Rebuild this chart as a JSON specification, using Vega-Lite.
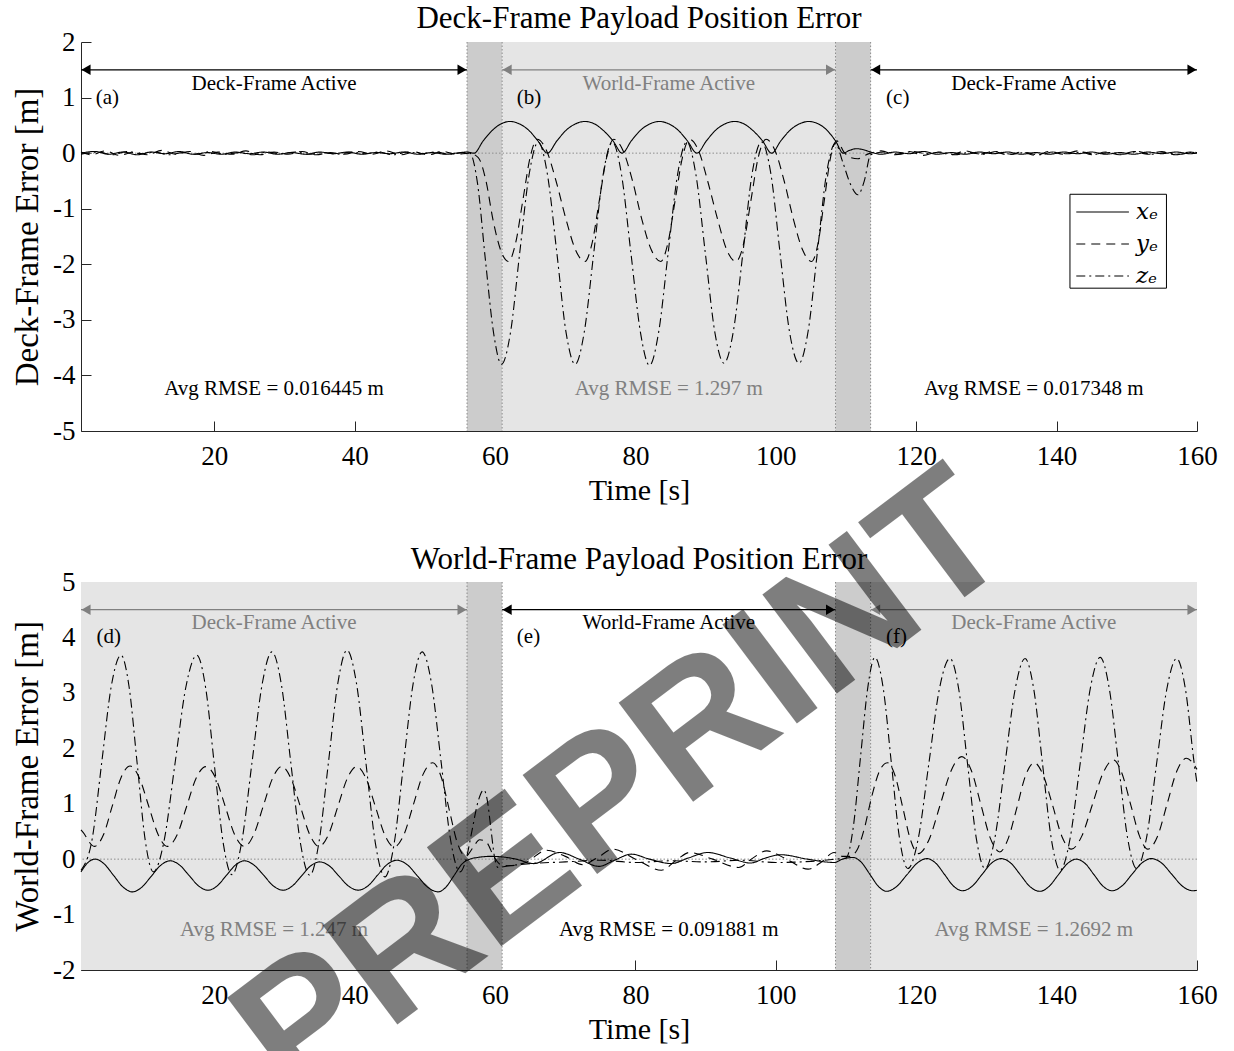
{
"$schema": "https://vega.github.io/schema/vega-lite/v6.json",
"background": "white",
"padding": {"left": 11, "top": 3, "right": 0, "bottom": 0},
"spacing": 151,
"bounds": "flush",
"datasets": {
"top": [
{"s":"x","t":1,"v":0},{"s":"x","t":3,"v":0.03},{"s":"x","t":5,"v":-0.02},{"s":"x","t":7,"v":0.02},{"s":"x","t":9,"v":-0.03},{"s":"x","t":11,"v":0.02},{"s":"x","t":13,"v":-0.01},{"s":"x","t":15,"v":0.03},{"s":"x","t":17,"v":-0.02},{"s":"x","t":19,"v":0.01},{"s":"x","t":21,"v":-0.02},{"s":"x","t":23,"v":0.02},{"s":"x","t":25,"v":-0.01},{"s":"x","t":27,"v":0.02},{"s":"x","t":29,"v":-0.02},{"s":"x","t":31,"v":0.01},{"s":"x","t":33,"v":-0.02},{"s":"x","t":35,"v":0.02},{"s":"x","t":37,"v":-0.01},{"s":"x","t":39,"v":0.02},{"s":"x","t":41,"v":-0.02},{"s":"x","t":43,"v":0.01},{"s":"x","t":45,"v":-0.01},{"s":"x","t":47,"v":0.02},{"s":"x","t":49,"v":-0.02},{"s":"x","t":51,"v":0.01},{"s":"x","t":53,"v":-0.02},{"s":"x","t":55,"v":0.01},{"s":"x","t":56,"v":0.02},
{"s":"x","t":57,"v":0},{"s":"x","t":58.3,"v":0.22},{"s":"x","t":59.6,"v":0.41},{"s":"x","t":60.9,"v":0.53},{"s":"x","t":62.1,"v":0.57},{"s":"x","t":63.4,"v":0.53},{"s":"x","t":64.8,"v":0.41},{"s":"x","t":66.1,"v":0.22},{"s":"x","t":67.45,"v":0},{"s":"x","t":68.8,"v":0.22},{"s":"x","t":70.1,"v":0.41},{"s":"x","t":71.5,"v":0.53},{"s":"x","t":72.8,"v":0.57},{"s":"x","t":74.1,"v":0.53},{"s":"x","t":75.4,"v":0.41},{"s":"x","t":76.8,"v":0.22},{"s":"x","t":78.1,"v":0},{"s":"x","t":79.4,"v":0.22},{"s":"x","t":80.7,"v":0.41},{"s":"x","t":82.1,"v":0.53},{"s":"x","t":83.4,"v":0.57},{"s":"x","t":84.7,"v":0.53},{"s":"x","t":86.1,"v":0.41},{"s":"x","t":87.4,"v":0.22},{"s":"x","t":88.75,"v":0},{"s":"x","t":90.1,"v":0.22},{"s":"x","t":91.4,"v":0.41},{"s":"x","t":92.8,"v":0.53},{"s":"x","t":94.1,"v":0.57},{"s":"x","t":95.4,"v":0.53},{"s":"x","t":96.7,"v":0.41},{"s":"x","t":98.1,"v":0.22},{"s":"x","t":99.4,"v":0},{"s":"x","t":100.7,"v":0.22},{"s":"x","t":102,"v":0.41},{"s":"x","t":103.4,"v":0.53},{"s":"x","t":104.7,"v":0.57},{"s":"x","t":106,"v":0.53},{"s":"x","t":107.3,"v":0.41},{"s":"x","t":108.5,"v":0.22},{"s":"x","t":109.6,"v":0},{"s":"x","t":110.5,"v":0.05},{"s":"x","t":111.5,"v":0.08},{"s":"x","t":112.5,"v":0.06},{"s":"x","t":113.5,"v":0.02},
{"s":"x","t":115,"v":-0.02},{"s":"x","t":117,"v":0.02},{"s":"x","t":119,"v":-0.01},{"s":"x","t":121,"v":0.03},{"s":"x","t":123,"v":-0.02},{"s":"x","t":125,"v":0.01},{"s":"x","t":127,"v":-0.02},{"s":"x","t":129,"v":0.02},{"s":"x","t":131,"v":-0.01},{"s":"x","t":133,"v":0.02},{"s":"x","t":135,"v":-0.02},{"s":"x","t":137,"v":0.01},{"s":"x","t":139,"v":-0.02},{"s":"x","t":141,"v":0.02},{"s":"x","t":143,"v":-0.01},{"s":"x","t":145,"v":0.02},{"s":"x","t":147,"v":-0.02},{"s":"x","t":149,"v":0.01},{"s":"x","t":151,"v":-0.02},{"s":"x","t":153,"v":0.02},{"s":"x","t":155,"v":-0.01},{"s":"x","t":157,"v":0.02},{"s":"x","t":159,"v":-0.01},{"s":"x","t":160,"v":0},
{"s":"y","t":1,"v":0.02},{"s":"y","t":2.5,"v":-0.03},{"s":"y","t":4.5,"v":0.04},{"s":"y","t":6.5,"v":-0.04},{"s":"y","t":8.5,"v":0.02},{"s":"y","t":10.5,"v":-0.03},{"s":"y","t":12.5,"v":0.05},{"s":"y","t":14.5,"v":-0.02},{"s":"y","t":16.5,"v":0.03},{"s":"y","t":18.5,"v":-0.04},{"s":"y","t":20.5,"v":0.02},{"s":"y","t":22.5,"v":-0.02},{"s":"y","t":24.5,"v":0.04},{"s":"y","t":26.5,"v":-0.03},{"s":"y","t":28.5,"v":0.02},{"s":"y","t":30.5,"v":-0.02},{"s":"y","t":32.5,"v":0.03},{"s":"y","t":34.5,"v":-0.03},{"s":"y","t":36.5,"v":0.01},{"s":"y","t":38.5,"v":-0.02},{"s":"y","t":40.5,"v":0.03},{"s":"y","t":42.5,"v":-0.02},{"s":"y","t":44.5,"v":0.04},{"s":"y","t":46.5,"v":-0.03},{"s":"y","t":48.5,"v":0.02},{"s":"y","t":50.5,"v":-0.03},{"s":"y","t":52.5,"v":0.03},{"s":"y","t":54.5,"v":-0.02},
{"s":"y","t":56.3,"v":0},{"s":"y","t":57.6,"v":-0.08},{"s":"y","t":58.7,"v":-0.5},{"s":"y","t":59.7,"v":-1.2},{"s":"y","t":60.8,"v":-1.75},{"s":"y","t":61.9,"v":-1.95},{"s":"y","t":62.9,"v":-1.63},{"s":"y","t":63.95,"v":-0.85},{"s":"y","t":65,"v":-0.07},{"s":"y","t":66,"v":0.25},{"s":"y","t":67.35,"v":0.04},{"s":"y","t":68.7,"v":-0.51},{"s":"y","t":70.1,"v":-1.19},{"s":"y","t":71.45,"v":-1.74},{"s":"y","t":72.8,"v":-1.95},{"s":"y","t":73.8,"v":-1.63},{"s":"y","t":74.85,"v":-0.85},{"s":"y","t":75.9,"v":-0.07},{"s":"y","t":76.9,"v":0.25},{"s":"y","t":78.25,"v":0.04},{"s":"y","t":79.6,"v":-0.51},{"s":"y","t":80.9,"v":-1.19},{"s":"y","t":82.25,"v":-1.74},{"s":"y","t":83.6,"v":-1.95},{"s":"y","t":84.6,"v":-1.63},{"s":"y","t":85.65,"v":-0.85},{"s":"y","t":86.7,"v":-0.07},{"s":"y","t":87.7,"v":0.25},{"s":"y","t":89,"v":0.04},{"s":"y","t":90.3,"v":-0.51},{"s":"y","t":91.7,"v":-1.19},{"s":"y","t":93,"v":-1.74},{"s":"y","t":94.3,"v":-1.95},{"s":"y","t":95.4,"v":-1.63},{"s":"y","t":96.45,"v":-0.85},{"s":"y","t":97.5,"v":-0.07},{"s":"y","t":98.6,"v":0.25},{"s":"y","t":99.9,"v":0.04},{"s":"y","t":101.2,"v":-0.51},{"s":"y","t":102.5,"v":-1.19},{"s":"y","t":103.8,"v":-1.74},{"s":"y","t":105.1,"v":-1.95},{"s":"y","t":106,"v":-1.63},{"s":"y","t":106.9,"v":-0.85},{"s":"y","t":107.8,"v":-0.07},{"s":"y","t":108.7,"v":0.22},{"s":"y","t":109.7,"v":0.02},{"s":"y","t":110.7,"v":-0.08},{"s":"y","t":111.7,"v":-0.1},{"s":"y","t":112.7,"v":-0.04},{"s":"y","t":113.5,"v":0},
{"s":"y","t":115,"v":0.04},{"s":"y","t":117,"v":-0.03},{"s":"y","t":119,"v":0.03},{"s":"y","t":121,"v":-0.04},{"s":"y","t":123,"v":0.02},{"s":"y","t":125,"v":-0.03},{"s":"y","t":127,"v":0.04},{"s":"y","t":129,"v":-0.02},{"s":"y","t":131,"v":0.03},{"s":"y","t":133,"v":-0.03},{"s":"y","t":135,"v":0.02},{"s":"y","t":137,"v":-0.04},{"s":"y","t":139,"v":0.03},{"s":"y","t":141,"v":-0.02},{"s":"y","t":143,"v":0.04},{"s":"y","t":145,"v":-0.03},{"s":"y","t":147,"v":0.02},{"s":"y","t":149,"v":-0.03},{"s":"y","t":151,"v":0.03},{"s":"y","t":153,"v":-0.02},{"s":"y","t":155,"v":0.03},{"s":"y","t":157,"v":-0.03},{"s":"y","t":159,"v":0.02},{"s":"y","t":160,"v":0},
{"s":"z","t":1,"v":-0.02},{"s":"z","t":3.5,"v":0.02},{"s":"z","t":5.5,"v":-0.03},{"s":"z","t":7.5,"v":0.03},{"s":"z","t":9.5,"v":-0.01},{"s":"z","t":11.5,"v":0.02},{"s":"z","t":13.5,"v":-0.03},{"s":"z","t":15.5,"v":0.01},{"s":"z","t":17.5,"v":-0.02},{"s":"z","t":19.5,"v":0.03},{"s":"z","t":21.5,"v":-0.02},{"s":"z","t":23.5,"v":0.01},{"s":"z","t":25.5,"v":-0.03},{"s":"z","t":27.5,"v":0.02},{"s":"z","t":29.5,"v":-0.01},{"s":"z","t":31.5,"v":0.02},{"s":"z","t":33.5,"v":-0.02},{"s":"z","t":35.5,"v":0.01},{"s":"z","t":37.5,"v":-0.02},{"s":"z","t":39.5,"v":0.02},{"s":"z","t":41.5,"v":-0.01},{"s":"z","t":43.5,"v":0.02},{"s":"z","t":45.5,"v":-0.03},{"s":"z","t":47.5,"v":0.02},{"s":"z","t":49.5,"v":-0.01},{"s":"z","t":51.5,"v":0.02},{"s":"z","t":53.5,"v":-0.02},{"s":"z","t":55.5,"v":0.01},
{"s":"z","t":56.4,"v":0},{"s":"z","t":57.5,"v":-0.55},{"s":"z","t":58.6,"v":-1.9},{"s":"z","t":59.8,"v":-3.25},{"s":"z","t":60.9,"v":-3.8},{"s":"z","t":62.2,"v":-3.22},{"s":"z","t":63.5,"v":-1.8},{"s":"z","t":64.85,"v":-0.38},{"s":"z","t":66.15,"v":0.2},{"s":"z","t":67.45,"v":-0.38},{"s":"z","t":68.8,"v":-1.8},{"s":"z","t":70.1,"v":-3.22},{"s":"z","t":71.4,"v":-3.8},{"s":"z","t":72.7,"v":-3.22},{"s":"z","t":74.05,"v":-1.8},{"s":"z","t":75.4,"v":-0.38},{"s":"z","t":76.7,"v":0.2},{"s":"z","t":78,"v":-0.38},{"s":"z","t":79.35,"v":-1.8},{"s":"z","t":80.7,"v":-3.22},{"s":"z","t":82,"v":-3.82},{"s":"z","t":83.3,"v":-3.22},{"s":"z","t":84.65,"v":-1.8},{"s":"z","t":86,"v":-0.38},{"s":"z","t":87.3,"v":0.2},{"s":"z","t":88.6,"v":-0.38},{"s":"z","t":89.95,"v":-1.8},{"s":"z","t":91.3,"v":-3.22},{"s":"z","t":92.6,"v":-3.78},{"s":"z","t":93.95,"v":-3.2},{"s":"z","t":95.3,"v":-1.8},{"s":"z","t":96.6,"v":-0.38},{"s":"z","t":97.95,"v":0.2},{"s":"z","t":99.3,"v":-0.38},{"s":"z","t":100.6,"v":-1.8},{"s":"z","t":101.95,"v":-3.22},{"s":"z","t":103.3,"v":-3.78},{"s":"z","t":104.6,"v":-3.2},{"s":"z","t":105.9,"v":-1.8},{"s":"z","t":107.2,"v":-0.38},{"s":"z","t":108.5,"v":0.18},{"s":"z","t":109.5,"v":-0.15},{"s":"z","t":110.6,"v":-0.55},{"s":"z","t":111.7,"v":-0.75},{"s":"z","t":112.6,"v":-0.5},{"s":"z","t":113.5,"v":-0.03},
{"s":"z","t":115.5,"v":0.02},{"s":"z","t":117.5,"v":-0.02},{"s":"z","t":119.5,"v":0.03},{"s":"z","t":121.5,"v":-0.01},{"s":"z","t":123.5,"v":0.02},{"s":"z","t":125.5,"v":-0.03},{"s":"z","t":127.5,"v":0.01},{"s":"z","t":129.5,"v":-0.02},{"s":"z","t":131.5,"v":0.03},{"s":"z","t":133.5,"v":-0.02},{"s":"z","t":135.5,"v":0.01},{"s":"z","t":137.5,"v":-0.03},{"s":"z","t":139.5,"v":0.02},{"s":"z","t":141.5,"v":-0.01},{"s":"z","t":143.5,"v":0.02},{"s":"z","t":145.5,"v":-0.02},{"s":"z","t":147.5,"v":0.01},{"s":"z","t":149.5,"v":-0.02},{"s":"z","t":151.5,"v":0.03},{"s":"z","t":153.5,"v":-0.02},{"s":"z","t":155.5,"v":0.01},{"s":"z","t":157.5,"v":-0.02},{"s":"z","t":159.5,"v":0.02},{"s":"z","t":160,"v":0.01}
],
"bot": [
{"s":"x","t":1,"v":-0.23},{"s":"x","t":2,"v":-0.06},{"s":"x","t":3,"v":0},{"s":"x","t":4.3,"v":-0.086},{"s":"x","t":5.65,"v":-0.295},{"s":"x","t":7,"v":-0.504},{"s":"x","t":8.3,"v":-0.59},{"s":"x","t":9.65,"v":-0.508},{"s":"x","t":11,"v":-0.31},{"s":"x","t":12.35,"v":-0.112},{"s":"x","t":13.7,"v":-0.03},{"s":"x","t":15.05,"v":-0.107},{"s":"x","t":16.4,"v":-0.295},{"s":"x","t":17.75,"v":-0.483},{"s":"x","t":19.1,"v":-0.56},{"s":"x","t":20.4,"v":-0.483},{"s":"x","t":21.7,"v":-0.295},{"s":"x","t":23,"v":-0.107},{"s":"x","t":24.3,"v":-0.03},{"s":"x","t":25.65,"v":-0.107},{"s":"x","t":27.05,"v":-0.295},{"s":"x","t":28.4,"v":-0.483},{"s":"x","t":29.8,"v":-0.56},{"s":"x","t":31.1,"v":-0.485},{"s":"x","t":32.4,"v":-0.305},{"s":"x","t":33.7,"v":-0.124},{"s":"x","t":35,"v":-0.05},{"s":"x","t":36.4,"v":-0.124},{"s":"x","t":37.75,"v":-0.305},{"s":"x","t":39.1,"v":-0.485},{"s":"x","t":40.5,"v":-0.56},{"s":"x","t":41.9,"v":-0.481},{"s":"x","t":43.25,"v":-0.29},{"s":"x","t":44.6,"v":-0.099},{"s":"x","t":46,"v":-0.02},{"s":"x","t":47.5,"v":-0.103},{"s":"x","t":48.95,"v":-0.305},{"s":"x","t":50.4,"v":-0.507},{"s":"x","t":51.9,"v":-0.59},{"s":"x","t":53,"v":-0.504},{"s":"x","t":54.15,"v":-0.295},{"s":"x","t":55.3,"v":-0.086},{"s":"x","t":56.4,"v":0},{"s":"x","t":57.5,"v":0.03},{"s":"x","t":59.3,"v":0.05},{"s":"x","t":61,"v":0.04},{"s":"x","t":63,"v":0},{"s":"x","t":65.5,"v":-0.08},{"s":"x","t":69.2,"v":0.12},{"s":"x","t":72,"v":0},{"s":"x","t":74.8,"v":-0.13},{"s":"x","t":77,"v":-0.02},{"s":"x","t":79.4,"v":0.09},{"s":"x","t":82,"v":0},{"s":"x","t":85.1,"v":-0.08},{"s":"x","t":87.5,"v":0.02},{"s":"x","t":90.3,"v":0.12},{"s":"x","t":93.5,"v":0.02},{"s":"x","t":96.4,"v":-0.07},{"s":"x","t":98.5,"v":0.02},{"s":"x","t":100.7,"v":0.08},{"s":"x","t":104.5,"v":0},{"s":"x","t":108.3,"v":-0.06},{"s":"x","t":109.5,"v":0},{"s":"x","t":111,"v":0.03},{"s":"x","t":112.2,"v":-0.06},{"s":"x","t":113.4,"v":-0.275},{"s":"x","t":114.6,"v":-0.49},{"s":"x","t":115.8,"v":-0.58},{"s":"x","t":117.2,"v":-0.494},{"s":"x","t":118.65,"v":-0.285},{"s":"x","t":120.1,"v":-0.076},{"s":"x","t":121.5,"v":0.01},{"s":"x","t":122.8,"v":-0.075},{"s":"x","t":124.05,"v":-0.28},{"s":"x","t":125.3,"v":-0.485},{"s":"x","t":126.6,"v":-0.57},{"s":"x","t":128,"v":-0.485},{"s":"x","t":129.35,"v":-0.28},{"s":"x","t":130.7,"v":-0.075},{"s":"x","t":132.1,"v":0.01},{"s":"x","t":133.5,"v":-0.075},{"s":"x","t":134.85,"v":-0.285},{"s":"x","t":136.2,"v":-0.495},{"s":"x","t":137.6,"v":-0.58},{"s":"x","t":138.9,"v":-0.495},{"s":"x","t":140.2,"v":-0.29},{"s":"x","t":141.5,"v":-0.085},{"s":"x","t":142.8,"v":0},{"s":"x","t":144.1,"v":-0.083},{"s":"x","t":145.35,"v":-0.285},{"s":"x","t":146.6,"v":-0.487},{"s":"x","t":147.9,"v":-0.57},{"s":"x","t":149.3,"v":-0.485},{"s":"x","t":150.7,"v":-0.28},{"s":"x","t":152.1,"v":-0.075},{"s":"x","t":153.5,"v":0.01},{"s":"x","t":155,"v":-0.075},{"s":"x","t":156.45,"v":-0.28},{"s":"x","t":157.9,"v":-0.485},{"s":"x","t":159.4,"v":-0.57},{"s":"x","t":160,"v":-0.56},
{"s":"y","t":1,"v":0.53},{"s":"y","t":1.5,"v":0.45},{"s":"y","t":2,"v":0.34},{"s":"y","t":2.9,"v":0.23},{"s":"y","t":4.2,"v":0.44},{"s":"y","t":5.45,"v":0.955},{"s":"y","t":6.7,"v":1.47},{"s":"y","t":8,"v":1.68},{"s":"y","t":9.3,"v":1.47},{"s":"y","t":10.65,"v":0.955},{"s":"y","t":12,"v":0.44},{"s":"y","t":13.3,"v":0.23},{"s":"y","t":14.7,"v":0.44},{"s":"y","t":16.05,"v":0.95},{"s":"y","t":17.4,"v":1.46},{"s":"y","t":18.8,"v":1.67},{"s":"y","t":20.2,"v":1.46},{"s":"y","t":21.55,"v":0.95},{"s":"y","t":22.9,"v":0.44},{"s":"y","t":24.3,"v":0.23},{"s":"y","t":25.6,"v":0.44},{"s":"y","t":26.95,"v":0.95},{"s":"y","t":28.3,"v":1.46},{"s":"y","t":29.6,"v":1.67},{"s":"y","t":30.9,"v":1.46},{"s":"y","t":32.25,"v":0.95},{"s":"y","t":33.6,"v":0.44},{"s":"y","t":34.9,"v":0.23},{"s":"y","t":36.25,"v":0.44},{"s":"y","t":37.6,"v":0.95},{"s":"y","t":38.95,"v":1.46},{"s":"y","t":40.3,"v":1.67},{"s":"y","t":41.6,"v":1.46},{"s":"y","t":42.95,"v":0.945},{"s":"y","t":44.3,"v":0.43},{"s":"y","t":45.6,"v":0.22},{"s":"y","t":47,"v":0.44},{"s":"y","t":48.35,"v":0.98},{"s":"y","t":49.7,"v":1.52},{"s":"y","t":51.1,"v":1.74},{"s":"y","t":52.3,"v":1.49},{"s":"y","t":53.45,"v":0.9},{"s":"y","t":54.6,"v":0.3},{"s":"y","t":55.8,"v":0.05},{"s":"y","t":56.8,"v":0.2},{"s":"y","t":57.8,"v":0.35},{"s":"y","t":58.8,"v":0.3},{"s":"y","t":59.8,"v":0.05},{"s":"y","t":60.8,"v":-0.1},{"s":"y","t":62,"v":-0.12},{"s":"y","t":64.5,"v":-0.05},{"s":"y","t":67.3,"v":0.16},{"s":"y","t":70,"v":0.05},{"s":"y","t":72.5,"v":-0.1},{"s":"y","t":74.5,"v":0.02},{"s":"y","t":76.8,"v":0.18},{"s":"y","t":80,"v":0},{"s":"y","t":83.7,"v":-0.2},{"s":"y","t":86,"v":0},{"s":"y","t":87.7,"v":0.12},{"s":"y","t":91,"v":0},{"s":"y","t":94.7,"v":-0.15},{"s":"y","t":96.5,"v":0},{"s":"y","t":98.7,"v":0.15},{"s":"y","t":101.5,"v":0},{"s":"y","t":104.6,"v":-0.18},{"s":"y","t":106.5,"v":-0.05},{"s":"y","t":108.3,"v":0.12},{"s":"y","t":109.5,"v":0.05},{"s":"y","t":110.5,"v":0.05},{"s":"y","t":111.5,"v":0.15},{"s":"y","t":112.6,"v":0.55},{"s":"y","t":113.7,"v":1.15},{"s":"y","t":114.8,"v":1.6},{"s":"y","t":115.9,"v":1.74},{"s":"y","t":117,"v":1.5},{"s":"y","t":118.1,"v":0.92},{"s":"y","t":119.2,"v":0.34},{"s":"y","t":120.3,"v":0.1},{"s":"y","t":121.85,"v":0.36},{"s":"y","t":123.4,"v":0.975},{"s":"y","t":124.95,"v":1.59},{"s":"y","t":126.5,"v":1.85},{"s":"y","t":127.85,"v":1.6},{"s":"y","t":129.2,"v":0.99},{"s":"y","t":130.55,"v":0.38},{"s":"y","t":131.9,"v":0.13},{"s":"y","t":133.1,"v":0.37},{"s":"y","t":134.35,"v":0.935},{"s":"y","t":135.55,"v":1.5},{"s":"y","t":136.8,"v":1.74},{"s":"y","t":138.1,"v":1.51},{"s":"y","t":139.45,"v":0.96},{"s":"y","t":140.75,"v":0.41},{"s":"y","t":142.1,"v":0.18},{"s":"y","t":143.6,"v":0.42},{"s":"y","t":145.1,"v":0.985},{"s":"y","t":146.6,"v":1.55},{"s":"y","t":148.1,"v":1.79},{"s":"y","t":149.3,"v":1.55},{"s":"y","t":150.55,"v":0.985},{"s":"y","t":151.8,"v":0.42},{"s":"y","t":153,"v":0.18},{"s":"y","t":154.4,"v":0.42},{"s":"y","t":155.75,"v":1},{"s":"y","t":157.1,"v":1.58},{"s":"y","t":158.5,"v":1.82},{"s":"y","t":159.3,"v":1.75},{"s":"y","t":160,"v":1.62},
{"s":"z","t":1,"v":-0.2},{"s":"z","t":2.6,"v":0.37},{"s":"z","t":3.95,"v":1.74},{"s":"z","t":5.3,"v":3.11},{"s":"z","t":6.7,"v":3.68},{"s":"z","t":7.85,"v":3.11},{"s":"z","t":9,"v":1.73},{"s":"z","t":10.15,"v":0.34},{"s":"z","t":11.3,"v":-0.23},{"s":"z","t":12.85,"v":0.34},{"s":"z","t":14.4,"v":1.73},{"s":"z","t":15.95,"v":3.11},{"s":"z","t":17.5,"v":3.68},{"s":"z","t":18.75,"v":3.1},{"s":"z","t":20,"v":1.7},{"s":"z","t":21.25,"v":0.3},{"s":"z","t":22.5,"v":-0.28},{"s":"z","t":23.9,"v":0.31},{"s":"z","t":25.35,"v":1.73},{"s":"z","t":26.8,"v":3.15},{"s":"z","t":28.2,"v":3.74},{"s":"z","t":29.55,"v":3.15},{"s":"z","t":30.9,"v":1.73},{"s":"z","t":32.25,"v":0.3},{"s":"z","t":33.6,"v":-0.29},{"s":"z","t":34.9,"v":0.3},{"s":"z","t":36.25,"v":1.74},{"s":"z","t":37.6,"v":3.18},{"s":"z","t":38.9,"v":3.77},{"s":"z","t":40.25,"v":3.17},{"s":"z","t":41.6,"v":1.73},{"s":"z","t":42.95,"v":0.28},{"s":"z","t":44.3,"v":-0.32},{"s":"z","t":45.6,"v":0.27},{"s":"z","t":46.95,"v":1.71},{"s":"z","t":48.3,"v":3.15},{"s":"z","t":49.6,"v":3.74},{"s":"z","t":50.95,"v":3.16},{"s":"z","t":52.3,"v":1.76},{"s":"z","t":53.65,"v":0.35},{"s":"z","t":55,"v":-0.23},{"s":"z","t":55.85,"v":-0.01},{"s":"z","t":56.7,"v":0.51},{"s":"z","t":57.55,"v":1.03},{"s":"z","t":58.4,"v":1.25},{"s":"z","t":58.9,"v":1.05},{"s":"z","t":59.4,"v":0.55},{"s":"z","t":59.9,"v":0.05},{"s":"z","t":60.4,"v":-0.15},{"s":"z","t":62,"v":-0.12},{"s":"z","t":65,"v":-0.08},{"s":"z","t":70,"v":-0.05},{"s":"z","t":75,"v":-0.02},{"s":"z","t":80,"v":-0.06},{"s":"z","t":85,"v":-0.03},{"s":"z","t":90,"v":-0.05},{"s":"z","t":95,"v":-0.02},{"s":"z","t":100,"v":-0.06},{"s":"z","t":105,"v":-0.04},{"s":"z","t":108.5,"v":0},{"s":"z","t":110,"v":0.02},{"s":"z","t":111,"v":0.55},{"s":"z","t":112.05,"v":1.83},{"s":"z","t":113.1,"v":3.1},{"s":"z","t":114.1,"v":3.64},{"s":"z","t":115.3,"v":3.08},{"s":"z","t":116.45,"v":1.74},{"s":"z","t":117.6,"v":0.39},{"s":"z","t":118.8,"v":-0.17},{"s":"z","t":120.3,"v":0.38},{"s":"z","t":121.8,"v":1.73},{"s":"z","t":123.3,"v":3.07},{"s":"z","t":124.8,"v":3.62},{"s":"z","t":126.05,"v":3.07},{"s":"z","t":127.3,"v":1.73},{"s":"z","t":128.55,"v":0.38},{"s":"z","t":129.8,"v":-0.17},{"s":"z","t":131.2,"v":0.38},{"s":"z","t":132.65,"v":1.73},{"s":"z","t":134.1,"v":3.07},{"s":"z","t":135.5,"v":3.62},{"s":"z","t":136.75,"v":3.06},{"s":"z","t":138,"v":1.71},{"s":"z","t":139.25,"v":0.36},{"s":"z","t":140.5,"v":-0.2},{"s":"z","t":141.9,"v":0.36},{"s":"z","t":143.35,"v":1.72},{"s":"z","t":144.8,"v":3.08},{"s":"z","t":146.2,"v":3.64},{"s":"z","t":147.5,"v":3.08},{"s":"z","t":148.8,"v":1.74},{"s":"z","t":150.1,"v":0.39},{"s":"z","t":151.4,"v":-0.17},{"s":"z","t":152.8,"v":0.38},{"s":"z","t":154.25,"v":1.73},{"s":"z","t":155.7,"v":3.07},{"s":"z","t":157.1,"v":3.62},{"s":"z","t":158.35,"v":3.07},{"s":"z","t":159.6,"v":1.73},{"s":"z","t":160,"v":1.37}
],
"bandsTop": [{"t":56,"t2":61,"k":"trans"},{"t":61,"t2":108.5,"k":"inactive"},{"t":108.5,"t2":113.5,"k":"trans"}],
"bandsBot": [{"t":1,"t2":56,"k":"inactive"},{"t":56,"t2":61,"k":"trans"},{"t":108.5,"t2":113.5,"k":"trans"},{"t":113.5,"t2":160,"k":"inactive"}],
"edges": [{"t":56},{"t":61},{"t":108.5},{"t":113.5}],
"arrowsTop": [{"t":1,"t2":56,"v":1.5,"k":"on"},{"t":61,"t2":108.5,"v":1.5,"k":"off"},{"t":113.5,"t2":160,"v":1.5,"k":"on"}],
"arrowsBot": [{"t":1,"t2":56,"v":4.5,"k":"off"},{"t":61,"t2":108.5,"v":4.5,"k":"on"},{"t":113.5,"t2":160,"v":4.5,"k":"off"}],
"textTop": [{"t":28.5,"v":1.25,"txt":"Deck-Frame Active","k":"on"},{"t":84.75,"v":1.25,"txt":"World-Frame Active","k":"off"},{"t":136.75,"v":1.25,"txt":"Deck-Frame Active","k":"on"},{"t":28.5,"v":-4.25,"txt":"Avg RMSE = 0.016445 m","k":"on"},{"t":84.75,"v":-4.25,"txt":"Avg RMSE = 1.297 m","k":"off"},{"t":136.75,"v":-4.25,"txt":"Avg RMSE = 0.017348 m","k":"on"}],
"textBot": [{"t":28.5,"v":4.26,"txt":"Deck-Frame Active","k":"off"},{"t":84.75,"v":4.26,"txt":"World-Frame Active","k":"on"},{"t":136.75,"v":4.26,"txt":"Deck-Frame Active","k":"off"},{"t":28.5,"v":-1.28,"txt":"Avg RMSE = 1.247 m","k":"off"},{"t":84.75,"v":-1.28,"txt":"Avg RMSE = 0.091881 m","k":"on"},{"t":136.75,"v":-1.28,"txt":"Avg RMSE = 1.2692 m","k":"off"}],
"lettersTop": [{"t":3.1,"v":1,"txt":"(a)"},{"t":63.1,"v":1,"txt":"(b)"},{"t":115.7,"v":1,"txt":"(c)"}],
"lettersBot": [{"t":3.2,"v":4,"txt":"(d)"},{"t":63.1,"v":4,"txt":"(e)"},{"t":115.7,"v":4,"txt":"(f)"}],
"legBox": [{"t":141.9,"t2":155.65,"v":-0.74,"v2":-2.43}],
"legRows": [{"s":"x","t":142.8,"t2":150.3,"tl":151.3,"v":-1.06,"lab":"xₑ"},{"s":"y","t":142.8,"t2":150.3,"tl":151.3,"v":-1.635,"lab":"yₑ"},{"s":"z","t":142.8,"t2":150.3,"tl":151.3,"v":-2.21,"lab":"zₑ"}],
"mark": [{"t":78.2,"v":1.3,"txt":"PREPRINT"}]
},
"vconcat": [
{
"title": {"text": "Deck-Frame Payload Position Error", "offset": -7},
"width": 1116, "height": 389,
"layer": [
{"data": {"name": "bandsTop"}, "mark": {"type": "rect"},
 "encoding": {"x": {"field": "t", "type": "quantitative", "scale": {"domain": [1, 160], "nice": false, "zero": false}, "axis": {"title": "Time [s]", "values": [20, 40, 60, 80, 100, 120, 140, 160]}}, "x2": {"field": "t2"},
  "y": {"datum": 2, "type": "quantitative", "scale": {"domain": [-5, 2], "nice": false, "zero": false}, "axis": {"title": "Deck-Frame Error [m]", "values": [-5, -4, -3, -2, -1, 0, 1, 2], "labelExpr": "'' + datum.value"}}, "y2": {"datum": -5},
  "fill": {"field": "k", "type": "nominal", "scale": {"domain": ["inactive", "trans"], "range": ["#e5e5e5", "#cccccc"]}, "legend": null}}},
{"data": {"name": "edges"}, "mark": {"type": "rule", "color": "#8c8c8c", "strokeDash": [1.5, 2], "strokeWidth": 1},
 "encoding": {"x": {"field": "t", "type": "quantitative", "scale": {"domain": [1, 160], "nice": false, "zero": false}, "axis": {"title": "Time [s]", "values": [20, 40, 60, 80, 100, 120, 140, 160]}}}},
{"data": {"values": [{"v": 0}]}, "mark": {"type": "rule", "color": "#8c8c8c", "strokeDash": [1.5, 2], "strokeWidth": 1},
 "encoding": {"y": {"field": "v", "type": "quantitative", "scale": {"domain": [-5, 2], "nice": false, "zero": false}, "axis": {"title": "Deck-Frame Error [m]", "values": [-5, -4, -3, -2, -1, 0, 1, 2], "labelExpr": "'' + datum.value"}}}},
{"data": {"name": "arrowsTop"}, "mark": {"type": "rule", "strokeWidth": 1.3},
 "encoding": {"x": {"field": "t", "type": "quantitative", "scale": {"domain": [1, 160], "nice": false, "zero": false}, "axis": {"title": "Time [s]", "values": [20, 40, 60, 80, 100, 120, 140, 160]}}, "x2": {"field": "t2"},
  "y": {"field": "v", "type": "quantitative", "scale": {"domain": [-5, 2], "nice": false, "zero": false}, "axis": {"title": "Deck-Frame Error [m]", "values": [-5, -4, -3, -2, -1, 0, 1, 2], "labelExpr": "'' + datum.value"}},
  "color": {"field": "k", "type": "nominal", "scale": {"domain": ["on", "off"], "range": ["black", "#808080"]}, "legend": null}}},
{"data": {"name": "arrowsTop"}, "mark": {"type": "point", "shape": "triangle-left", "filled": true, "size": 110, "xOffset": 5, "opacity": 1},
 "encoding": {"x": {"field": "t", "type": "quantitative", "scale": {"domain": [1, 160], "nice": false, "zero": false}, "axis": {"title": "Time [s]", "values": [20, 40, 60, 80, 100, 120, 140, 160]}},
  "y": {"field": "v", "type": "quantitative", "scale": {"domain": [-5, 2], "nice": false, "zero": false}, "axis": {"title": "Deck-Frame Error [m]", "values": [-5, -4, -3, -2, -1, 0, 1, 2], "labelExpr": "'' + datum.value"}},
  "color": {"field": "k", "type": "nominal", "scale": {"domain": ["on", "off"], "range": ["black", "#808080"]}, "legend": null}}},
{"data": {"name": "arrowsTop"}, "mark": {"type": "point", "shape": "triangle-right", "filled": true, "size": 110, "xOffset": -5, "opacity": 1},
 "encoding": {"x": {"field": "t2", "type": "quantitative", "scale": {"domain": [1, 160], "nice": false, "zero": false}, "axis": {"title": "Time [s]", "values": [20, 40, 60, 80, 100, 120, 140, 160]}},
  "y": {"field": "v", "type": "quantitative", "scale": {"domain": [-5, 2], "nice": false, "zero": false}, "axis": {"title": "Deck-Frame Error [m]", "values": [-5, -4, -3, -2, -1, 0, 1, 2], "labelExpr": "'' + datum.value"}},
  "color": {"field": "k", "type": "nominal", "scale": {"domain": ["on", "off"], "range": ["black", "#808080"]}, "legend": null}}},
{"data": {"name": "textTop"}, "mark": {"type": "text", "fontSize": 21, "font": "Liberation Serif", "align": "center", "baseline": "middle"},
 "encoding": {"x": {"field": "t", "type": "quantitative", "scale": {"domain": [1, 160], "nice": false, "zero": false}, "axis": {"title": "Time [s]", "values": [20, 40, 60, 80, 100, 120, 140, 160]}},
  "y": {"field": "v", "type": "quantitative", "scale": {"domain": [-5, 2], "nice": false, "zero": false}, "axis": {"title": "Deck-Frame Error [m]", "values": [-5, -4, -3, -2, -1, 0, 1, 2], "labelExpr": "'' + datum.value"}},
  "text": {"field": "txt"},
  "color": {"field": "k", "type": "nominal", "scale": {"domain": ["on", "off"], "range": ["black", "#808080"]}, "legend": null}}},
{"data": {"name": "lettersTop"}, "mark": {"type": "text", "fontSize": 21, "font": "Liberation Serif", "align": "left", "baseline": "middle", "color": "black"},
 "encoding": {"x": {"field": "t", "type": "quantitative", "scale": {"domain": [1, 160], "nice": false, "zero": false}, "axis": {"title": "Time [s]", "values": [20, 40, 60, 80, 100, 120, 140, 160]}},
  "y": {"field": "v", "type": "quantitative", "scale": {"domain": [-5, 2], "nice": false, "zero": false}, "axis": {"title": "Deck-Frame Error [m]", "values": [-5, -4, -3, -2, -1, 0, 1, 2], "labelExpr": "'' + datum.value"}},
  "text": {"field": "txt"}}},
{"data": {"name": "top"}, "mark": {"type": "line", "interpolate": "monotone", "strokeWidth": 1.1, "color": "black"},
 "encoding": {
  "x": {"field": "t", "type": "quantitative", "scale": {"domain": [1, 160], "nice": false, "zero": false}, "axis": {"title": "Time [s]", "values": [20, 40, 60, 80, 100, 120, 140, 160]}},
  "y": {"field": "v", "type": "quantitative", "scale": {"domain": [-5, 2], "nice": false, "zero": false}, "axis": {"title": "Deck-Frame Error [m]", "values": [-5, -4, -3, -2, -1, 0, 1, 2], "labelExpr": "'' + datum.value"}},
  "strokeDash": {"field": "s", "type": "nominal", "scale": {"domain": ["x", "y", "z"], "range": [[1, 0], [9, 6], [9, 4, 2, 4]]}, "legend": null}
 }},
{"data": {"name": "legBox"}, "mark": {"type": "rect", "fill": "white", "stroke": "black", "strokeWidth": 1},
 "encoding": {"x": {"field": "t", "type": "quantitative", "scale": {"domain": [1, 160], "nice": false, "zero": false}, "axis": {"title": "Time [s]", "values": [20, 40, 60, 80, 100, 120, 140, 160]}}, "x2": {"field": "t2"},
  "y": {"field": "v", "type": "quantitative", "scale": {"domain": [-5, 2], "nice": false, "zero": false}, "axis": {"title": "Deck-Frame Error [m]", "values": [-5, -4, -3, -2, -1, 0, 1, 2], "labelExpr": "'' + datum.value"}}, "y2": {"field": "v2"}}},
{"data": {"name": "legRows"}, "mark": {"type": "rule", "strokeWidth": 1.1, "color": "black"},
 "encoding": {"x": {"field": "t", "type": "quantitative", "scale": {"domain": [1, 160], "nice": false, "zero": false}, "axis": {"title": "Time [s]", "values": [20, 40, 60, 80, 100, 120, 140, 160]}}, "x2": {"field": "t2"},
  "y": {"field": "v", "type": "quantitative", "scale": {"domain": [-5, 2], "nice": false, "zero": false}, "axis": {"title": "Deck-Frame Error [m]", "values": [-5, -4, -3, -2, -1, 0, 1, 2], "labelExpr": "'' + datum.value"}},
  "strokeDash": {"field": "s", "type": "nominal", "scale": {"domain": ["x", "y", "z"], "range": [[1, 0], [9, 6], [9, 4, 2, 4]]}, "legend": null}}},
{"data": {"name": "legRows"}, "mark": {"type": "text", "fontSize": 23, "font": "DejaVu Serif", "fontStyle": "italic", "align": "left", "baseline": "middle", "color": "black"},
 "encoding": {"x": {"field": "tl", "type": "quantitative", "scale": {"domain": [1, 160], "nice": false, "zero": false}, "axis": {"title": "Time [s]", "values": [20, 40, 60, 80, 100, 120, 140, 160]}},
  "y": {"field": "v", "type": "quantitative", "scale": {"domain": [-5, 2], "nice": false, "zero": false}, "axis": {"title": "Deck-Frame Error [m]", "values": [-5, -4, -3, -2, -1, 0, 1, 2], "labelExpr": "'' + datum.value"}},
  "text": {"field": "lab"}}}
]
},
{
"title": {"text": "World-Frame Payload Position Error", "offset": -135},
"width": 1116, "height": 388,
"layer": [
{"data": {"name": "bandsBot"}, "mark": {"type": "rect"},
 "encoding": {"x": {"field": "t", "type": "quantitative", "scale": {"domain": [1, 160], "nice": false, "zero": false}, "axis": {"title": "Time [s]", "values": [20, 40, 60, 80, 100, 120, 140, 160]}}, "x2": {"field": "t2"},
  "y": {"datum": 5, "type": "quantitative", "scale": {"domain": [-2, 5], "nice": false, "zero": false}, "axis": {"title": "World-Frame Error [m]", "values": [-2, -1, 0, 1, 2, 3, 4, 5], "labelExpr": "'' + datum.value"}}, "y2": {"datum": -2},
  "fill": {"field": "k", "type": "nominal", "scale": {"domain": ["inactive", "trans"], "range": ["#e5e5e5", "#cccccc"]}, "legend": null}}},
{"data": {"name": "edges"}, "mark": {"type": "rule", "color": "#8c8c8c", "strokeDash": [1.5, 2], "strokeWidth": 1},
 "encoding": {"x": {"field": "t", "type": "quantitative", "scale": {"domain": [1, 160], "nice": false, "zero": false}, "axis": {"title": "Time [s]", "values": [20, 40, 60, 80, 100, 120, 140, 160]}}}},
{"data": {"values": [{"v": 0}]}, "mark": {"type": "rule", "color": "#8c8c8c", "strokeDash": [1.5, 2], "strokeWidth": 1},
 "encoding": {"y": {"field": "v", "type": "quantitative", "scale": {"domain": [-2, 5], "nice": false, "zero": false}, "axis": {"title": "World-Frame Error [m]", "values": [-2, -1, 0, 1, 2, 3, 4, 5], "labelExpr": "'' + datum.value"}}}},
{"data": {"name": "arrowsBot"}, "mark": {"type": "rule", "strokeWidth": 1.3},
 "encoding": {"x": {"field": "t", "type": "quantitative", "scale": {"domain": [1, 160], "nice": false, "zero": false}, "axis": {"title": "Time [s]", "values": [20, 40, 60, 80, 100, 120, 140, 160]}}, "x2": {"field": "t2"},
  "y": {"field": "v", "type": "quantitative", "scale": {"domain": [-2, 5], "nice": false, "zero": false}, "axis": {"title": "World-Frame Error [m]", "values": [-2, -1, 0, 1, 2, 3, 4, 5], "labelExpr": "'' + datum.value"}},
  "color": {"field": "k", "type": "nominal", "scale": {"domain": ["on", "off"], "range": ["black", "#808080"]}, "legend": null}}},
{"data": {"name": "arrowsBot"}, "mark": {"type": "point", "shape": "triangle-left", "filled": true, "size": 110, "xOffset": 5, "opacity": 1},
 "encoding": {"x": {"field": "t", "type": "quantitative", "scale": {"domain": [1, 160], "nice": false, "zero": false}, "axis": {"title": "Time [s]", "values": [20, 40, 60, 80, 100, 120, 140, 160]}},
  "y": {"field": "v", "type": "quantitative", "scale": {"domain": [-2, 5], "nice": false, "zero": false}, "axis": {"title": "World-Frame Error [m]", "values": [-2, -1, 0, 1, 2, 3, 4, 5], "labelExpr": "'' + datum.value"}},
  "color": {"field": "k", "type": "nominal", "scale": {"domain": ["on", "off"], "range": ["black", "#808080"]}, "legend": null}}},
{"data": {"name": "arrowsBot"}, "mark": {"type": "point", "shape": "triangle-right", "filled": true, "size": 110, "xOffset": -5, "opacity": 1},
 "encoding": {"x": {"field": "t2", "type": "quantitative", "scale": {"domain": [1, 160], "nice": false, "zero": false}, "axis": {"title": "Time [s]", "values": [20, 40, 60, 80, 100, 120, 140, 160]}},
  "y": {"field": "v", "type": "quantitative", "scale": {"domain": [-2, 5], "nice": false, "zero": false}, "axis": {"title": "World-Frame Error [m]", "values": [-2, -1, 0, 1, 2, 3, 4, 5], "labelExpr": "'' + datum.value"}},
  "color": {"field": "k", "type": "nominal", "scale": {"domain": ["on", "off"], "range": ["black", "#808080"]}, "legend": null}}},
{"data": {"name": "textBot"}, "mark": {"type": "text", "fontSize": 21, "font": "Liberation Serif", "align": "center", "baseline": "middle"},
 "encoding": {"x": {"field": "t", "type": "quantitative", "scale": {"domain": [1, 160], "nice": false, "zero": false}, "axis": {"title": "Time [s]", "values": [20, 40, 60, 80, 100, 120, 140, 160]}},
  "y": {"field": "v", "type": "quantitative", "scale": {"domain": [-2, 5], "nice": false, "zero": false}, "axis": {"title": "World-Frame Error [m]", "values": [-2, -1, 0, 1, 2, 3, 4, 5], "labelExpr": "'' + datum.value"}},
  "text": {"field": "txt"},
  "color": {"field": "k", "type": "nominal", "scale": {"domain": ["on", "off"], "range": ["black", "#808080"]}, "legend": null}}},
{"data": {"name": "lettersBot"}, "mark": {"type": "text", "fontSize": 21, "font": "Liberation Serif", "align": "left", "baseline": "middle", "color": "black"},
 "encoding": {"x": {"field": "t", "type": "quantitative", "scale": {"domain": [1, 160], "nice": false, "zero": false}, "axis": {"title": "Time [s]", "values": [20, 40, 60, 80, 100, 120, 140, 160]}},
  "y": {"field": "v", "type": "quantitative", "scale": {"domain": [-2, 5], "nice": false, "zero": false}, "axis": {"title": "World-Frame Error [m]", "values": [-2, -1, 0, 1, 2, 3, 4, 5], "labelExpr": "'' + datum.value"}},
  "text": {"field": "txt"}}},
{"data": {"name": "bot"}, "mark": {"type": "line", "interpolate": "monotone", "strokeWidth": 1.1, "color": "black"},
 "encoding": {
  "x": {"field": "t", "type": "quantitative", "scale": {"domain": [1, 160], "nice": false, "zero": false}, "axis": {"title": "Time [s]", "values": [20, 40, 60, 80, 100, 120, 140, 160]}},
  "y": {"field": "v", "type": "quantitative", "scale": {"domain": [-2, 5], "nice": false, "zero": false}, "axis": {"title": "World-Frame Error [m]", "values": [-2, -1, 0, 1, 2, 3, 4, 5], "labelExpr": "'' + datum.value"}},
  "strokeDash": {"field": "s", "type": "nominal", "scale": {"domain": ["x", "y", "z"], "range": [[1, 0], [9, 6], [9, 4, 2, 4]]}, "legend": null}
 }},
{"data": {"name": "mark"}, "mark": {"type": "text", "fontSize": 180, "font": "Liberation Sans", "fontWeight": "bold", "angle": -37, "align": "center", "baseline": "middle", "color": "black", "opacity": 0.5},
 "encoding": {"x": {"field": "t", "type": "quantitative", "scale": {"domain": [1, 160], "nice": false, "zero": false}, "axis": {"title": "Time [s]", "values": [20, 40, 60, 80, 100, 120, 140, 160]}},
  "y": {"field": "v", "type": "quantitative", "scale": {"domain": [-2, 5], "nice": false, "zero": false}, "axis": {"title": "World-Frame Error [m]", "values": [-2, -1, 0, 1, 2, 3, 4, 5], "labelExpr": "'' + datum.value"}},
  "text": {"field": "txt"}}}
]
}
],
"resolve": {"scale": {"strokeDash": "independent"}, "legend": {"strokeDash": "independent"}},
"config": {
 "font": "Liberation Serif",
 "view": {"stroke": null},
 "axis": {"grid": false, "labelFlush": false, "labelFont": "Liberation Serif", "labelFontSize": 27, "labelColor": "black", "titleFont": "Liberation Serif", "titleFontSize": 30, "titleFontWeight": "normal", "titleColor": "black", "domainColor": "#262626", "domainWidth": 1, "tickColor": "#262626", "tickSize": -10, "tickWidth": 1},
 "axisX": {"labelPadding": 22, "titlePadding": 6},
 "axisY": {"labelPadding": 16, "titlePadding": 8, "titleFontSize": 33},
 "title": {"font": "Liberation Serif", "fontSize": 31, "fontWeight": "normal", "color": "black"}
}
}
